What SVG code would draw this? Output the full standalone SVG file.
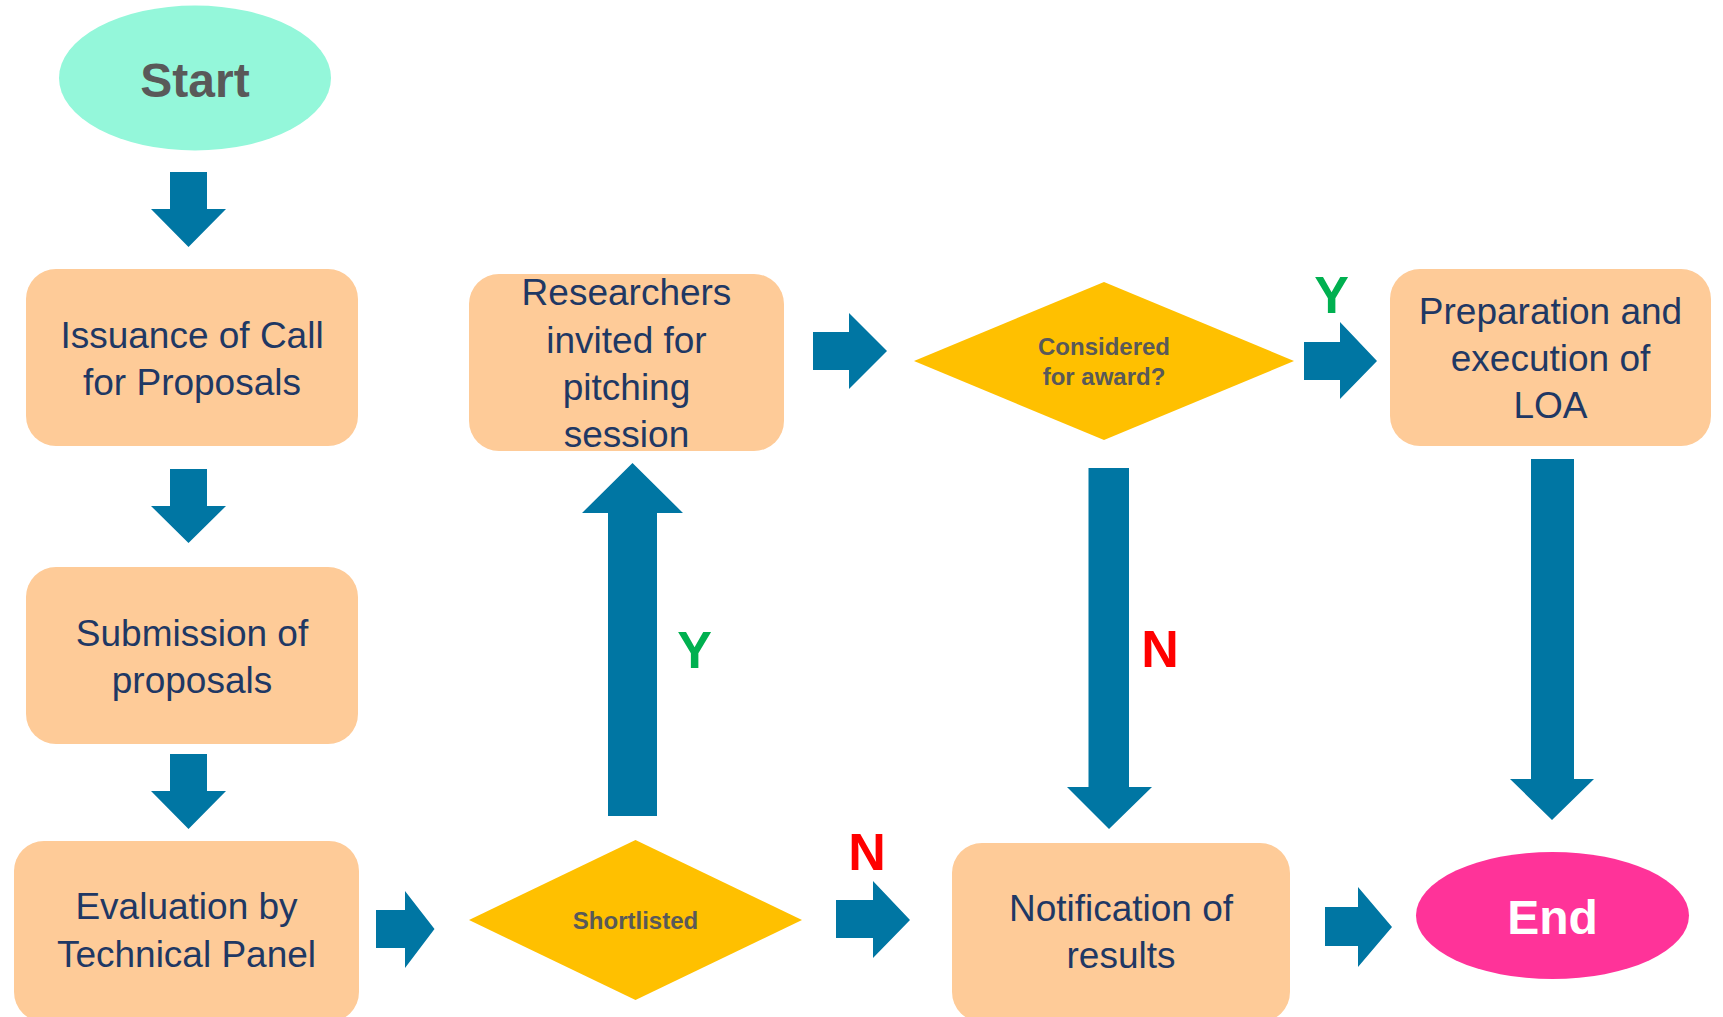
<svg xmlns="http://www.w3.org/2000/svg" width="1723" height="1017" viewBox="0 0 1723 1017">
<style>
.box{fill:#FECB98}
.dia{fill:#FFC000}
.arr{fill:#0076A3}
.t{font-family:"Liberation Sans",Arial,sans-serif;font-size:37px;fill:#1F3864;text-anchor:middle}
.dt{font-family:"Liberation Sans",Arial,sans-serif;font-size:24px;font-weight:bold;fill:#595959;text-anchor:middle}
.yn{font-family:"Liberation Sans",Arial,sans-serif;font-size:52px;font-weight:bold;text-anchor:middle}
.se{font-family:"Liberation Sans",Arial,sans-serif;font-size:48px;font-weight:bold;text-anchor:middle}
</style>
<rect width="1723" height="1017" fill="#FFFFFF"/>
<g id="connectors">
<polygon class="arr" points="170,172 207,172 207,209 226,209 188.5,247 151,209 170,209"/>
<polygon class="arr" points="170,469 207,469 207,506 226,506 188.5,543 151,506 170,506"/>
<polygon class="arr" points="170,754 207,754 207,791 226,791 188.5,829 151,791 170,791"/>
<polygon class="arr" points="376,910 405,910 405,891 434.5,929 405,968 405,948 376,948"/>
<polygon class="arr" points="608,816 608,513 582,513 632.5,463 683,513 657,513 657,816"/>
<polygon class="arr" points="836,900 873,900 873,881 910,920 873,958 873,938 836,938"/>
<polygon class="arr" points="813,332 849,332 849,313 887,351 849,389 849,370 813,370"/>
<polygon class="arr" points="1088.5,468 1129,468 1129,787 1152,787 1109,829 1067,787 1088.5,787"/>
<polygon class="arr" points="1304,342 1340,342 1340,322 1377,361 1340,399 1340,380 1304,380"/>
<polygon class="arr" points="1531,459 1574,459 1574,779 1594,779 1552,820 1510,779 1531,779"/>
<polygon class="arr" points="1325,907 1358,907 1358,887 1392,927 1358,967 1358,946 1325,946"/>
<text class="yn" x="694.5" y="668" fill="#00B050">Y</text>
<text class="yn" x="867" y="870" fill="#FF0000">N</text>
<text class="yn" x="1160" y="667" fill="#FF0000">N</text>
<text class="yn" x="1331.5" y="313" fill="#00B050">Y</text>
</g>
<g id="start">
<ellipse cx="195" cy="78" rx="136" ry="72.5" fill="#94F7DA"/>
<text class="se" x="195" y="97" fill="#595959">Start</text>
</g>
<g id="issuance">
<rect class="box" x="26" y="269" width="332" height="177" rx="30"/>
<text class="t" x="192" y="348">Issuance of Call</text>
<text class="t" x="192" y="395">for Proposals</text>
</g>
<g id="submission">
<rect class="box" x="26" y="567" width="332" height="177" rx="30"/>
<text class="t" x="192" y="646">Submission of</text>
<text class="t" x="192" y="693">proposals</text>
</g>
<g id="evaluation">
<rect class="box" x="14" y="841" width="345" height="181" rx="30"/>
<text class="t" x="186.5" y="919">Evaluation by</text>
<text class="t" x="186.5" y="967">Technical Panel</text>
</g>
<g id="shortlisted">
<polygon class="dia" points="469,920 635.5,840 802,920 635.5,1000"/>
<text class="dt" x="635.5" y="929">Shortlisted</text>
</g>
<g id="researchers">
<rect class="box" x="469" y="274" width="315" height="177" rx="30"/>
<text class="t" x="626.5" y="305">Researchers</text>
<text class="t" x="626.5" y="353">invited for</text>
<text class="t" x="626.5" y="400">pitching</text>
<text class="t" x="626.5" y="447">session</text>
</g>
<g id="considered">
<polygon class="dia" points="914,361 1104,282 1294,361 1104,440"/>
<text class="dt" x="1104" y="355">Considered</text>
<text class="dt" x="1104" y="385">for award?</text>
</g>
<g id="preparation">
<rect class="box" x="1390" y="269" width="321" height="177" rx="30"/>
<text class="t" x="1550.5" y="324">Preparation and</text>
<text class="t" x="1550.5" y="371">execution of</text>
<text class="t" x="1550.5" y="418">LOA</text>
</g>
<g id="notification">
<rect class="box" x="952" y="843" width="338" height="179" rx="30"/>
<text class="t" x="1121" y="921">Notification of</text>
<text class="t" x="1121" y="968">results</text>
</g>
<g id="end">
<ellipse cx="1552.5" cy="915.5" rx="136.5" ry="63.5" fill="#FF3399"/>
<text class="se" x="1552.5" y="934" fill="#FFFFFF">End</text>
</g>
</svg>
